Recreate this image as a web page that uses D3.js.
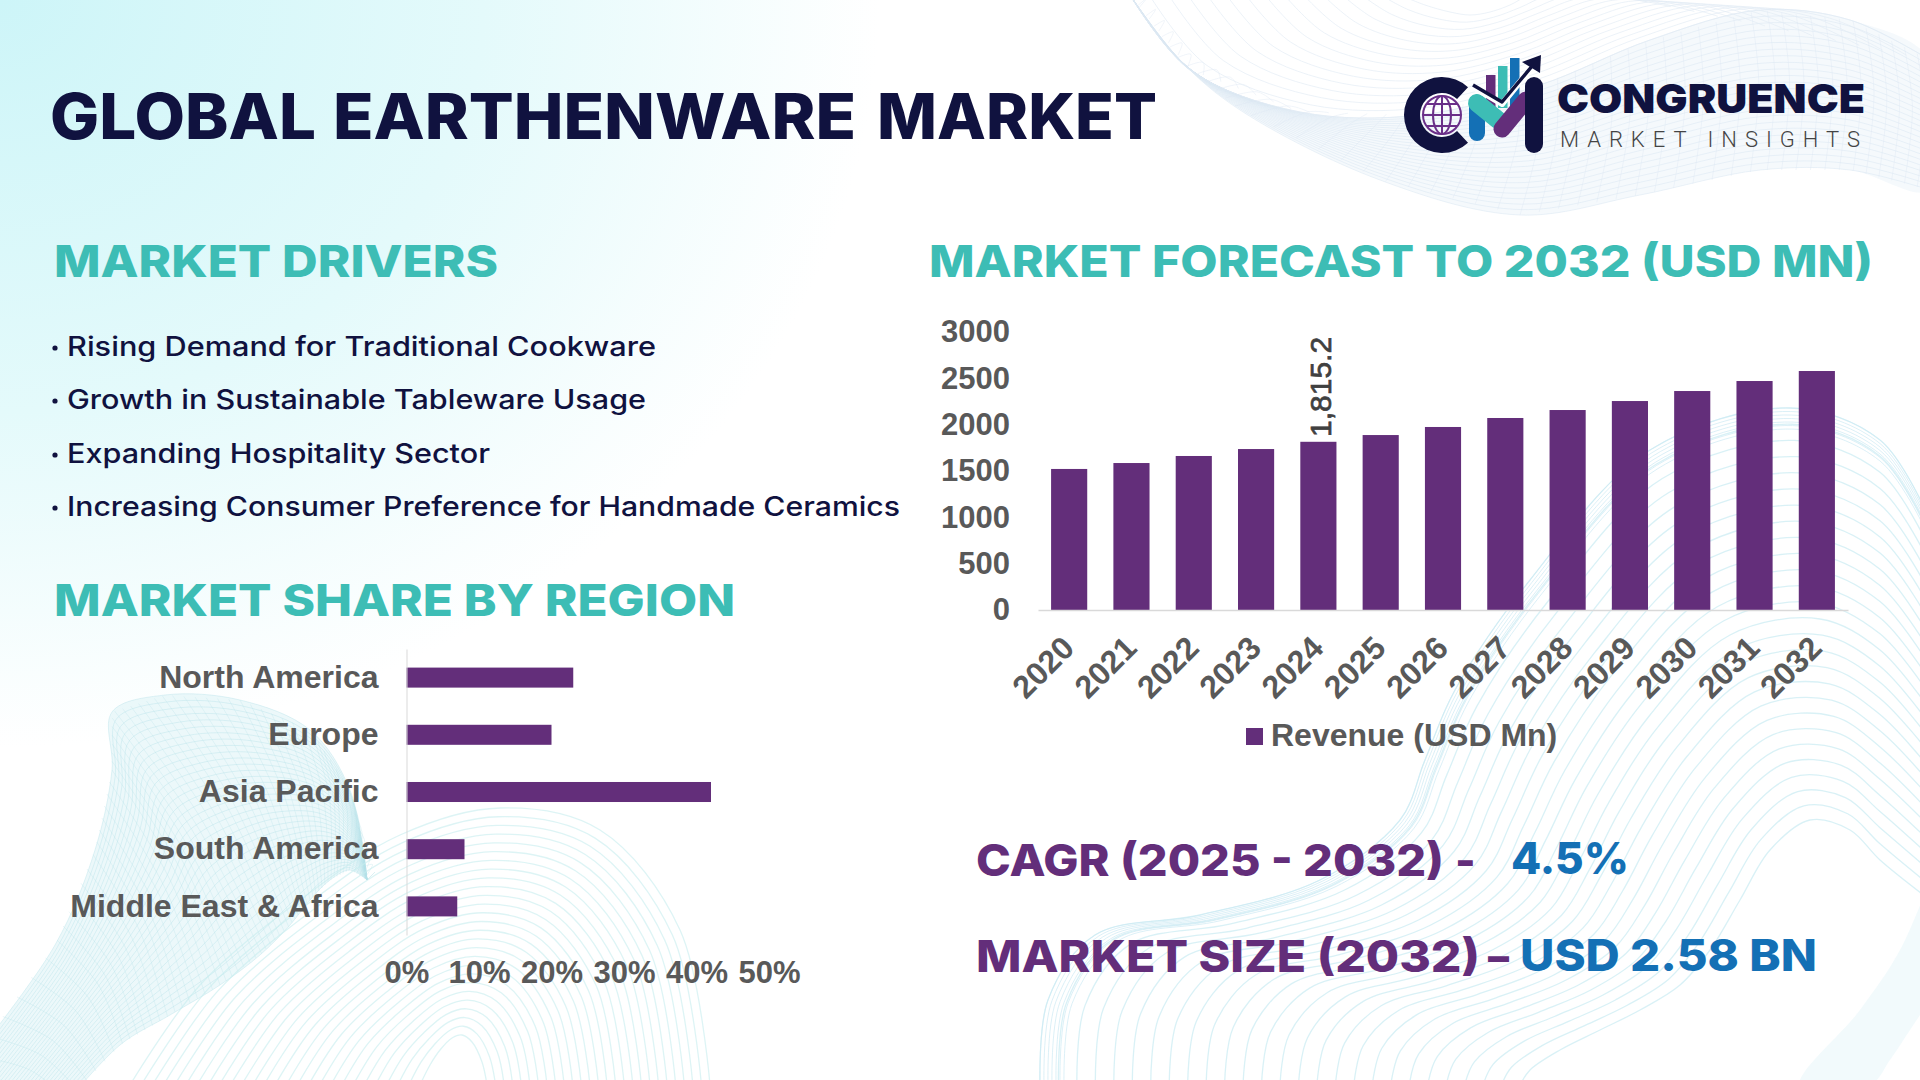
<!DOCTYPE html>
<html>
<head>
<meta charset="utf-8">
<script src="https://cdn.jsdelivr.net/npm/d3@7"></script>
<style>
html, body { margin: 0; padding: 0; background: #fff; }
svg { display: block; }
text { font-family: Inter, "Noto Sans", sans-serif; }
.chartText { font-family: "Liberation Sans", Arial, sans-serif; font-weight: 700; fill: #595959; font-size: 31px; }
.chartLabel { font-family: "Liberation Sans", Arial, sans-serif; font-weight: 700; fill: #595959; font-size: 32px; }
</style>
</head>
<body>
<svg id="page" width="1920" height="1080"></svg>
<script>
var years = [2020, 2021, 2022, 2023, 2024, 2025, 2026, 2027, 2028, 2029, 2030, 2031, 2032];
var revenue = [1522, 1586, 1662, 1737, 1815.2, 1888, 1975, 2072, 2158, 2255, 2363, 2471, 2579];
var revenueTicks = [0, 500, 1000, 1500, 2000, 2500, 3000];
var regions = ['North America', 'Europe', 'Asia Pacific', 'South America', 'Middle East & Africa'];
var shares = [23, 20, 42, 8, 7];
var shareTicks = [0, 10, 20, 30, 40, 50];
var drivers = [
    'Rising Demand for Traditional Cookware',
    'Growth in Sustainable Tableware Usage',
    'Expanding Hospitality Sector',
    'Increasing Consumer Preference for Handmade Ceramics'
];

var purple = '#632e7a', teal = '#3dbdb5', navy = '#10123f', blue = '#1470b5';
var svg = d3.select('#page');

// Background wash
var defs = svg.append('defs');
var wash = defs.append('radialGradient').attr('id', 'wash')
    .attr('gradientUnits', 'userSpaceOnUse')
    .attr('cx', 0).attr('cy', 0).attr('r', 880)
    .attr('gradientTransform', 'scale(1,0.85)');
wash.append('stop').attr('offset', 0).attr('stop-color', '#cdf5f8');
wash.append('stop').attr('offset', 0.55).attr('stop-color', '#e4fafb');
wash.append('stop').attr('offset', 1).attr('stop-color', '#ffffff');
defs.append('filter').attr('id', 'soft')
    .append('feGaussianBlur').attr('stdDeviation', 0.6);
svg.append('rect').attr('width', 1920).attr('height', 1080).attr('fill', '#fff');
svg.append('rect').attr('width', 1920).attr('height', 1080).attr('fill', 'url(#wash)');

var bg = svg.append('g').attr('fill', 'none').attr('filter', 'url(#soft)');
var curve = d3.line().curve(d3.curveCatmullRom.alpha(0.5));

function mix(a, b, t) {
    return a.map(function(p, k) {
        return [p[0] + (b[k][0] - p[0]) * t, p[1] + (b[k][1] - p[1]) * t];
    });
}

// Family of lines running between two hand placed edge curves
function ribbon(a, b, n, colour, op, width) {
    d3.range(n + 1).forEach(function(i) {
        bg.append('path').attr('d', curve(mix(a, b, i / n)))
            .attr('stroke', colour).attr('stroke-opacity', op).attr('stroke-width', width);
    });
}

function sheet(a, b, colour, op) {
    var outline = a.concat(b.slice().reverse());
    bg.append('path').attr('d', curve(outline) + 'Z').attr('fill', colour).attr('fill-opacity', op);
}

// Cross lines of a ribbon, gives the mesh look
function crossing(a, b, n, colour, op, width) {
    d3.range(n + 1).forEach(function(i) {
        var f = i / n * (a.length - 1), k = Math.min(Math.floor(f), a.length - 2), r = f - k;
        var pa = [a[k][0] + (a[k + 1][0] - a[k][0]) * r, a[k][1] + (a[k + 1][1] - a[k][1]) * r];
        var pb = [b[k][0] + (b[k + 1][0] - b[k][0]) * r, b[k][1] + (b[k + 1][1] - b[k][1]) * r];
        bg.append('path').attr('d', curve([pa, [(pa[0] + pb[0]) / 2 + 8, (pa[1] + pb[1]) / 2 - 8], pb]))
            .attr('stroke', colour).attr('stroke-opacity', op).attr('stroke-width', width);
    });
}

// Left ribbon
var leftA = [[-40, 1075], [55, 945], [95, 850], [112, 770], [112, 712], [165, 695], [240, 700], [310, 730], [350, 790], [367, 880]];
var leftB = [[60, 1110], [120, 1045], [170, 1015], [220, 985], [260, 955], [290, 925], [310, 900], [330, 880], [350, 870], [367, 880]];
sheet(leftA, leftB, '#d5eff3', 0.45);
ribbon(leftA, leftB, 34, '#b5e0e8', 0.4, 1);
crossing(leftA, leftB, 60, '#b5e0e8', 0.3, 1);

// Bottom centre dome
var domeA = [[130, 1085], [200, 985], [300, 900], [400, 835], [500, 808], [600, 830], [680, 930], [710, 1085]];
var domeB = [[420, 1085], [430, 1065], [440, 1050], [452, 1038], [462, 1035], [472, 1042], [482, 1062], [487, 1085]];
ribbon(domeA, domeB, 26, '#c6ecef', 0.6, 1.3);

// Bottom right
var rightA = [[1040, 1085], [1048, 1000], [1095, 935], [1200, 915], [1320, 880], [1400, 820], [1425, 760], [1455, 690], [1530, 580], [1650, 450], [1790, 408], [1880, 440], [1930, 520]];
var rightB = [[1520, 1085], [1530, 1070], [1560, 1050], [1600, 1030], [1640, 1010], [1680, 985], [1710, 950], [1740, 900], [1770, 850], [1810, 820], [1850, 830], [1880, 860], [1930, 900]];
ribbon(rightA, rightB, 26, '#bfe8f0', 0.6, 1.3);
ribbon(rightA, mix(rightA, rightB, 0.05), 6, '#cdeaf3', 0.7, 1);

var cornerA = [[1930, 880], [1900, 950], [1860, 1010], [1800, 1085]];
var cornerB = [[1930, 1000], [1910, 1030], [1890, 1060], [1870, 1085]];
sheet(cornerA, cornerB, '#d9f0f5', 0.35);

// Top right ribbon
var topA = [[1130, -5], [1190, 70], [1300, 112], [1420, 115], [1540, 85], [1650, 40], [1760, 10], [1850, 20], [1930, 60]];
var topB = [[1130, -5], [1180, 60], [1240, 110], [1380, 180], [1520, 215], [1640, 195], [1760, 170], [1850, 170], [1930, 190]];
sheet(topA, topB, '#edf4f9', 0.55);
ribbon(topA, topB, 24, '#dbe7f2', 0.55, 1);
crossing(topA, topB, 50, '#dbe7f2', 0.4, 1);
var capB = [[1400, -5], [1425, 5], [1450, 12], [1470, 15], [1490, 12], [1510, 5], [1530, -5], [1560, -8], [1600, -8]];
ribbon(topA, capB, 14, '#e2ebf4', 0.65, 1);

// Fitted heading text
function label(str, x, y, size, weight, colour, right) {
    return svg.append('text').text(str)
        .attr('x', x).attr('y', y)
        .attr('font-size', size).attr('font-weight', weight).attr('fill', colour)
        .attr('textLength', right - x).attr('lengthAdjust', 'spacingAndGlyphs');
}

label('GLOBAL', 50, 139, 63, 800, navy, 316);
label('EARTHENWARE', 333, 139, 63, 800, navy, 856);
label('MARKET', 877, 139, 63, 800, navy, 1157);
label('MARKET DRIVERS', 54, 277, 44, 800, teal, 498);
label('MARKET FORECAST TO 2032 (USD MN)', 929, 277, 44, 800, teal, 1873);
label('MARKET SHARE BY REGION', 54, 616, 44, 800, teal, 735);

// Driver list
var driverEnds = [656, 646, 490, 900];
var driverBase = [356, 409, 463, 516];
drivers.forEach(function(d, i) {
    svg.append('circle').attr('cx', 55).attr('cy', driverBase[i] - 8).attr('r', 2.6).attr('fill', navy);
    label(d, 67, driverBase[i], 27, 500, navy, driverEnds[i]);
});

// Forecast chart
var x = d3.scaleBand().domain(years).range([1038, 1848]).paddingInner(0.42).paddingOuter(0.21);
var y = d3.scaleLinear().domain([0, 3000]).range([610, 332]);

svg.append('g').attr('fill', purple).selectAll('rect')
    .data(revenue).join('rect')
    .attr('x', function(d, i) { return x(years[i]); })
    .attr('y', function(d) { return y(d); })
    .attr('width', x.bandwidth())
    .attr('height', function(d) { return y(0) - y(d); });

var yAxis = svg.append('g').attr('transform', 'translate(1010,0)')
    .call(d3.axisLeft(y).tickValues(revenueTicks).tickSize(0).tickPadding(0).tickFormat(d3.format('d')));
yAxis.select('.domain').remove();
yAxis.selectAll('text').attr('class', 'chartText');

var xAxis = svg.append('g').attr('transform', 'translate(0,610)')
    .call(d3.axisBottom(x).tickSize(0).tickPadding(0));
xAxis.select('.domain').attr('stroke', '#d9d9d9').attr('stroke-width', 1.5);
xAxis.selectAll('text').attr('class', 'chartLabel')
    .attr('text-anchor', 'end')
    .attr('dy', 0)
    .attr('transform', 'translate(7,40) rotate(-45)');

// Only 2024 carries a data label
svg.append('text').text('1,815.2')
    .attr('transform', 'translate(1331,437) rotate(-90)')
    .attr('font-size', 30).attr('fill', '#404040')
    .attr('stroke', '#404040').attr('stroke-width', 0.7)
    .style('font-family', '"Liberation Sans", Arial, sans-serif');

svg.append('rect').attr('x', 1246).attr('y', 728).attr('width', 17).attr('height', 17).attr('fill', purple);
svg.append('text').text('Revenue (USD Mn)').attr('class', 'chartLabel').attr('x', 1271).attr('y', 746);

// Region chart
var bx = d3.scaleLinear().domain([0, 50]).range([406.5, 769]);
var by = d3.scaleBand().domain(regions).range([649, 935]).paddingInner(0.65).paddingOuter(0.325);

svg.append('g').attr('fill', purple).selectAll('rect')
    .data(shares).join('rect')
    .attr('x', bx(0))
    .attr('y', function(d, i) { return by(regions[i]); })
    .attr('width', function(d) { return bx(d) - bx(0); })
    .attr('height', by.bandwidth());

var catAxis = svg.append('g').attr('transform', 'translate(406.5,0)')
    .call(d3.axisLeft(by).tickSize(0).tickPadding(28));
catAxis.select('.domain').attr('stroke', '#d9d9d9').attr('stroke-width', 1);
catAxis.selectAll('text').attr('class', 'chartLabel');

var valAxis = svg.append('g').attr('transform', 'translate(0,983)')
    .call(d3.axisBottom(bx).tickValues(shareTicks).tickSize(0).tickPadding(0).tickFormat(function(d) { return d + '%'; }));
valAxis.select('.domain').remove();
valAxis.selectAll('text').attr('class', 'chartText').attr('dy', 0);

// Key figures
label('CAGR (2025 - 2032)', 976, 876, 44, 800, purple, 1444);
svg.append('text').text('-').attr('x', 1455).attr('y', 876)
    .attr('font-size', 44).attr('font-weight', 800).attr('fill', purple);
label('4.5%', 1511, 874, 44, 800, blue, 1629);
label('MARKET SIZE (2032)', 976, 972, 44, 800, purple, 1480);
label('\u2013', 1488, 972, 44, 800, purple, 1509);
label('USD 2.58 BN', 1520, 971, 44, 800, blue, 1817);

// Logo
var logo = svg.append('g').attr('fill', 'none');
var ringArc = d3.arc().innerRadius(22).outerRadius(38).startAngle(Math.PI * 0.76).endAngle(Math.PI * 2.24);
logo.append('path').attr('d', ringArc()).attr('transform', 'translate(1442,115)').attr('fill', navy);

var globe = logo.append('g').attr('transform', 'translate(1442,115)').attr('stroke', '#6a2f88').attr('stroke-width', 2);
globe.append('circle').attr('r', 19);
globe.append('ellipse').attr('rx', 9).attr('ry', 19);
[-11, 0, 11].forEach(function(h) {
    var half = Math.sqrt(19 * 19 - h * h);
    globe.append('line').attr('x1', -half).attr('x2', half).attr('y1', h).attr('y2', h);
});
globe.append('line').attr('x1', 0).attr('x2', 0).attr('y1', -19).attr('y2', 19);

function stroke(pts, colour, w, cap) {
    logo.append('path').attr('d', d3.line()(pts)).attr('stroke', colour)
        .attr('stroke-width', w).attr('stroke-linecap', cap || 'round').attr('stroke-linejoin', 'round');
}
[[1486, 75, '#632e7a'], [1498, 66, '#3dbdb5'], [1510, 58, '#1470b5']].forEach(function(b) {
    logo.append('rect').attr('x', b[0]).attr('y', b[1]).attr('width', 9.5).attr('height', 108 - b[1]).attr('fill', b[2]);
});
stroke([[1477, 103], [1477, 133]], '#1470b5', 16);
stroke([[1477, 103], [1498, 120]], '#3dbdb5', 18);
stroke([[1502, 129], [1526, 100]], '#632e7a', 17);
stroke([[1534, 86], [1534, 144]], navy, 18);
stroke([[1473, 87], [1502, 104], [1533, 66]], '#fff', 6, 'butt');
stroke([[1473, 85], [1502, 102], [1533, 65]], navy, 3.5, 'butt');
logo.append('path').attr('d', d3.line()([[1541, 55], [1522, 62], [1540, 73]])).attr('fill', navy);

label('CONGRUENCE', 1557, 113, 40, 900, navy, 1865);
svg.append('text').text('MARKET INSIGHTS')
    .attr('x', 1560).attr('y', 147).attr('font-size', 22).attr('fill', '#444')
    .attr('textLength', 300).attr('lengthAdjust', 'spacing')
    .style('font-family', 'Roboto, sans-serif').attr('font-weight', 300);
</script>
</body>
</html>
